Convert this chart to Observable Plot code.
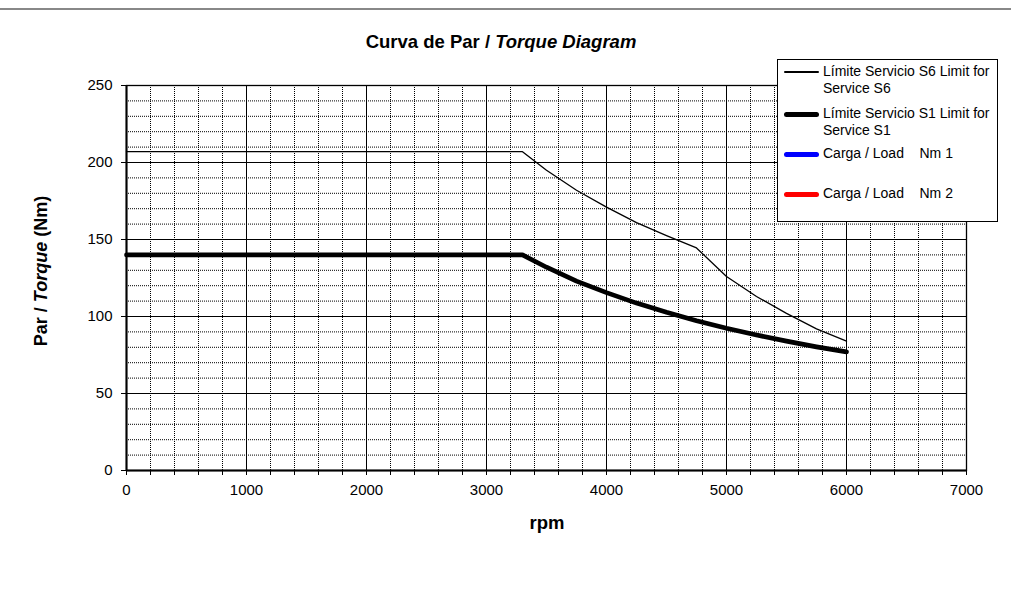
<!DOCTYPE html>
<html>
<head>
<meta charset="utf-8">
<script src="https://cdn.jsdelivr.net/npm/d3@7"></script>
<script src="https://cdn.jsdelivr.net/npm/@observablehq/plot@0.6"></script>
<style>
  html, body { margin: 0; padding: 0; background: #fff; }
  body { width: 1011px; height: 589px; position: relative; overflow: hidden;
         font-family: "Liberation Sans", Arial, sans-serif; color: #000; }
  #topline { position: absolute; left: 0; top: 8px; width: 1011px; height: 2px; background: #888; }
  #title { position: absolute; left: 0; width: 1002px; top: 33px; text-align: center;
           font-size: 18.5px; font-weight: bold; line-height: 18.5px; white-space: nowrap; }
  #chart { position: absolute; left: 0; top: 60px; }
  #ylab { position: absolute; left: 41px; top: 271px; transform: translate(-50%, -50%) rotate(-90deg);
          font-size: 18px; font-weight: bold; white-space: nowrap; line-height: 18px; }
  #xlab { position: absolute; left: 547px; top: 523px; transform: translate(-50%, -50%);
          font-size: 18.5px; font-weight: bold; line-height: 18.5px; }
  #legend { position: absolute; left: 777px; top: 59px; width: 221px; height: 163px;
            border: 1px solid #000; background: #fff; box-sizing: border-box; }
  .sw { position: absolute; left: 6px; width: 35px; border-radius: 3px; }
  .lt { position: absolute; left: 45px; font-size: 14px; line-height: 16.5px; white-space: pre; }
</style>
</head>
<body>
<div id="topline"></div>
<div id="title">Curva de Par / <i>Torque Diagram</i></div>
<div id="chart"></div>
<div id="ylab">Par / <i>Torque</i> (Nm)</div>
<div id="xlab">rpm</div>
<div id="legend"></div>
<script>
// ---- data ----
const rpmS6 = [0, 3300, 3500, 3750, 4000, 4250, 4500, 4750, 5000, 5250, 5500, 5750, 6000];
const torqueS6 = [207, 207, 195, 182, 171, 161, 152.5, 144.5, 126, 113, 102, 92, 84];
const rpmS1 = [0, 3300, 3500, 3750, 4000, 4250, 4500, 4750, 5000, 5250, 5500, 5750, 6000];
const torqueS1 = [140, 140, 132, 123, 115.5, 108.7, 102.7, 97.3, 92.4, 88, 84, 80.3, 77];
const xTicks = [0, 1000, 2000, 3000, 4000, 5000, 6000, 7000];
const yTicks = [0, 50, 100, 150, 200, 250];
const legendLabels = ["Límite Servicio S6 Limit for\nService S6", "Límite Servicio S1 Limit for\nService S1", "Carga / Load    Nm 1", "Carga / Load    Nm 2"];
const legendColors = ["#000000", "#000000", "#0000ff", "#ff0000"];
const legendWidths = [2, 5, 5, 5];

const s6 = rpmS6.map((x, i) => ({x, y: torqueS6[i]}));
const s1 = rpmS1.map((x, i) => ({x, y: torqueS1[i]}));

const minorX = d3.range(200, 7000, 200).filter(v => v % 1000 !== 0);
const majorX = xTicks.filter(v => v > 0 && v < 7000);
const minorY = d3.range(10, 250, 10).filter(v => v % 50 !== 0);
const majorY = yTicks.filter(v => v > 0 && v < 250);

const chart = Plot.plot({
  width: 1011,
  height: 529,
  marginTop: 25,
  marginBottom: 119,
  marginLeft: 126,
  marginRight: 45,
  style: {fontFamily: "'Liberation Sans', Arial, sans-serif", fontSize: "15px", color: "#000", background: "#fff"},
  x: {domain: [0, 7000]},
  y: {domain: [0, 250]},
  marks: [
    Plot.ruleX(minorX, {stroke: "#000", strokeDasharray: "1,1", strokeWidth: 1}),
    Plot.ruleY(minorY, {stroke: "#000", strokeDasharray: "1,1", strokeWidth: 1}),
    Plot.ruleX(majorX, {stroke: "#000", strokeWidth: 1}),
    Plot.ruleY(majorY, {stroke: "#000", strokeWidth: 1}),
    Plot.frame({stroke: "#000", strokeWidth: 1.3}),
    Plot.ruleX([0], {stroke: "#000", strokeWidth: 2}),
    Plot.ruleY([0], {stroke: "#000", strokeWidth: 2}),
    Plot.axisX(d3.range(0, 7001, 200), {tickSize: 5, tickPadding: 9, tickFormat: d => d % 1000 === 0 ? String(d) : "", label: null, fontSize: 15}),
    Plot.axisY(yTicks, {tickSize: 5, tickPadding: 9, label: null, fontSize: 15}),
    Plot.line(s6, {x: "x", y: "y", stroke: "#000", strokeWidth: 1.3}),
    Plot.line(s1, {x: "x", y: "y", stroke: "#000", strokeWidth: 4.7, strokeLinecap: "round", strokeLinejoin: "round"})
  ]
});
document.getElementById("chart").appendChild(chart);

// legend
const legend = document.getElementById("legend");
const rowY = [12, 54, 94, 134]; // swatch centre, relative to legend box
legendLabels.forEach((lab, i) => {
  const sw = document.createElement("div");
  sw.className = "sw";
  sw.style.top = (rowY[i] - legendWidths[i] / 2) + "px";
  sw.style.height = legendWidths[i] + "px";
  sw.style.background = legendColors[i];
  legend.appendChild(sw);
  const t = document.createElement("div");
  t.className = "lt";
  t.style.top = (rowY[i] - 9) + "px";
  t.textContent = lab;
  legend.appendChild(t);
});
</script>
</body>
</html>
